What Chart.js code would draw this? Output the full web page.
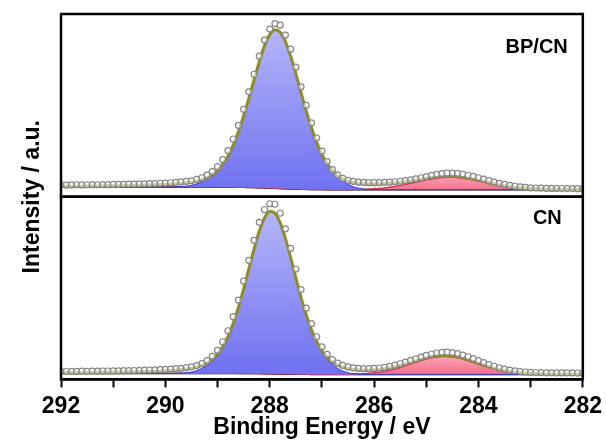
<!DOCTYPE html>
<html>
<head>
<meta charset="utf-8">
<script src="https://cdn.jsdelivr.net/npm/chart.js@4.4.1/dist/chart.umd.min.js"></script>
<style>
  html, body { margin: 0; padding: 0; background: #fff; }
  #wrap { width: 606px; height: 441px; }
</style>
</head>
<body>
<div id="wrap"><canvas id="myChart" width="606" height="441"></canvas></div>
<script>
// binding energy grid (eV), one point per 0.1 eV, 292 -> 282
const energy = [
  292.0, 291.9, 291.8, 291.7, 291.6, 291.5, 291.4, 291.3, 291.2, 291.1,
  291.0, 290.9, 290.8, 290.7, 290.6, 290.5, 290.4, 290.3, 290.2, 290.1,
  290.0, 289.9, 289.8, 289.7, 289.6, 289.5, 289.4, 289.3, 289.2, 289.1,
  289.0, 288.9, 288.8, 288.7, 288.6, 288.5, 288.4, 288.3, 288.2, 288.1,
  288.0, 287.9, 287.8, 287.7, 287.6, 287.5, 287.4, 287.3, 287.2, 287.1,
  287.0, 286.9, 286.8, 286.7, 286.6, 286.5, 286.4, 286.3, 286.2, 286.1,
  286.0, 285.9, 285.8, 285.7, 285.6, 285.5, 285.4, 285.3, 285.2, 285.1,
  285.0, 284.9, 284.8, 284.7, 284.6, 284.5, 284.4, 284.3, 284.2, 284.1,
  284.0, 283.9, 283.8, 283.7, 283.6, 283.5, 283.4, 283.3, 283.2, 283.1,
  283.0, 282.9, 282.8, 282.7, 282.6, 282.5, 282.4, 282.3, 282.2, 282.1,
  282.0
];
const xTickLabels = [292, 290, 288, 286, 284, 282];
const panelNames = ["BP/CN", "CN"];

// ---- BP/CN (top panel) ----
const obsTop = [
  11.8, 11.6, 11.7, 11.9, 11.7, 11.9, 12.0, 11.9, 12.1, 12.0,
  12.2, 12.3, 12.3, 12.5, 12.5, 12.7, 12.8, 13.0, 13.1, 13.4,
  13.6, 13.9, 14.2, 14.7, 15.2, 15.8, 17.2, 18.9, 21.5, 25.0,
  30.0, 37.0, 46.0, 57.5, 71.0, 87.0, 104.5, 122.0, 140.0, 156.0,
  167.0, 172.5, 171.0, 161.0, 147.0, 129.0, 109.5, 91.0, 73.5, 58.5,
  45.5, 35.0, 27.0, 21.8, 18.2, 16.3, 15.3, 14.6, 14.2, 14.0,
  14.0, 14.0, 14.2, 14.5, 14.9, 15.4, 16.0, 16.8, 17.8, 18.9,
  20.1, 21.3, 22.3, 23.0, 23.4, 23.5, 23.2, 22.5, 21.4, 20.2,
  18.9, 17.5, 16.0, 14.6, 13.3, 12.2, 11.2, 10.4, 9.8, 9.3,
  8.9, 8.7, 8.5, 8.4, 8.3, 8.3, 8.2, 8.1, 8.1, 8.0,
  8.0
];
const envTop = [
  10.4, 10.4, 10.4, 10.5, 10.5, 10.6, 10.6, 10.7, 10.8, 10.8,
  10.9, 11.0, 11.1, 11.2, 11.3, 11.4, 11.6, 11.7, 11.9, 12.1,
  12.3, 12.6, 12.9, 13.3, 13.8, 14.5, 15.5, 16.9, 19.0, 22.0,
  26.4, 32.4, 40.6, 51.4, 64.7, 80.4, 98.1, 116.7, 134.6, 150.3,
  161.4, 166.3, 163.8, 154.6, 140.1, 122.6, 103.7, 85.4, 68.6, 54.1,
  42.2, 32.9, 26.0, 21.0, 17.5, 15.4, 14.3, 13.4, 13.0, 12.8,
  12.8, 12.9, 13.1, 13.5, 13.9, 14.5, 15.0, 15.8, 16.7, 17.6,
  18.4, 19.1, 19.7, 20.3, 20.5, 20.4, 20.1, 19.4, 18.5, 17.6,
  16.5, 15.3, 14.1, 12.9, 11.9, 11.0, 10.2, 9.5, 9.0, 8.6,
  8.2, 8.0, 7.8, 7.7, 7.6, 7.6, 7.5, 7.4, 7.4, 7.4,
  7.4
];
const bgTop = [
  9.6, 9.6, 9.6, 9.6, 9.6, 9.6, 9.6, 9.6, 9.6, 9.6,
  9.6, 9.6, 9.6, 9.6, 9.6, 9.6, 9.6, 9.6, 9.6, 9.6,
  9.6, 9.6, 9.6, 9.6, 9.6, 9.6, 9.6, 9.6, 9.6, 9.6,
  9.6, 9.5, 9.5, 9.5, 9.4, 9.3, 9.2, 9.1, 8.9, 8.8,
  8.6, 8.4, 8.1, 7.9, 7.7, 7.6, 7.4, 7.3, 7.2, 7.1,
  7.1, 7.0, 7.0, 7.0, 7.0, 7.0, 7.0, 7.0, 7.0, 7.0,
  7.0, 7.0, 7.0, 7.0, 7.0, 7.0, 7.0, 7.0, 7.0, 7.0,
  7.0, 7.0, 7.0, 7.0, 7.0, 7.0, 7.0, 7.0, 7.0, 7.0,
  7.0, 7.0, 7.0, 7.0, 7.0, 7.0, 7.0, 7.0, 7.0, 7.0,
  7.0, 7.0, 7.0, 7.0, 7.0, 7.0, 7.0, 7.0, 7.0, 7.0,
  7.0
];
// component heights above background
const blueTop = [
  0, 0, 0, 0, 0, 0, 0, 0, 0, 0,
  0, 0, 0, 0, 0, 0, 0, 0, 0, 0,
  0, 0, 0.1, 0.4, 0.9, 1.8, 3.2, 5.5, 8.5, 11.8,
  16.2, 22.5, 30.8, 41.9, 55.3, 71.1, 88.9, 107.6, 125.7, 141.5,
  152.8, 157.9, 155.7, 146.7, 132.4, 115.0, 96.3, 78.1, 61.4, 47.0,
  35.1, 25.9, 18.9, 13.2, 8.8, 5.5, 3.0, 1.5, 0.6, 0.2,
  0, 0, 0, 0, 0, 0, 0, 0, 0, 0,
  0, 0, 0, 0, 0, 0, 0, 0, 0, 0,
  0, 0, 0, 0, 0, 0, 0, 0, 0, 0,
  0, 0, 0, 0, 0, 0, 0, 0, 0, 0,
  0
];
const redTop = [
  0, 0, 0, 0, 0, 0, 0, 0, 0, 0,
  0, 0, 0, 0, 0, 0, 0, 0, 0, 0,
  0, 0, 0, 0, 0, 0, 0, 0, 0, 0,
  0, 0, 0, 0, 0, 0, 0, 0, 0, 0,
  0, 0, 0, 0, 0, 0, 0, 0, 0, 0,
  0, 0, 0, 0.1, 0.1, 0.1, 0.2, 0.3, 0.5, 0.7,
  1.0, 1.4, 1.9, 2.6, 3.3, 4.2, 5.2, 6.3, 7.5, 8.6,
  9.7, 10.6, 11.4, 12.0, 12.3, 12.3, 12.0, 11.4, 10.6, 9.7,
  8.6, 7.5, 6.3, 5.2, 4.2, 3.3, 2.6, 1.9, 1.4, 1.0,
  0.7, 0.5, 0.3, 0.2, 0.1, 0.1, 0.1, 0, 0, 0,
  0
];

// ---- CN (bottom panel) ----
const obsBot = [
  8.0, 7.9, 8.1, 8.0, 8.2, 8.1, 8.3, 8.2, 8.4, 8.4,
  8.5, 8.6, 8.7, 8.8, 8.9, 9.1, 9.2, 9.4, 9.6, 9.8,
  10.0, 10.3, 10.7, 11.1, 11.7, 12.5, 13.8, 15.8, 18.8, 23.0,
  29.0, 37.5, 48.5, 62.5, 79.0, 98.0, 118.5, 138.5, 156.5, 169.0,
  175.0, 174.5, 165.5, 150.0, 130.5, 110.0, 89.5, 71.0, 55.5, 42.5,
  32.5, 25.0, 19.8, 16.3, 13.9, 12.4, 11.5, 11.0, 10.8, 10.8,
  11.0, 11.4, 12.1, 13.0, 14.2, 15.6, 17.2, 18.9, 20.6, 22.3,
  23.9, 25.3, 26.3, 27.0, 27.1, 26.7, 25.7, 24.3, 22.6, 20.7,
  18.7, 16.7, 14.8, 13.1, 11.6, 10.3, 9.3, 8.5, 7.9, 7.4,
  7.1, 6.9, 6.8, 6.6, 6.6, 6.5, 6.5, 6.5, 6.5, 6.4,
  6.4
];
const envBot = [
  6.7, 6.8, 6.8, 6.9, 6.9, 7.0, 7.0, 7.1, 7.1, 7.2,
  7.3, 7.4, 7.5, 7.6, 7.7, 7.8, 8.0, 8.1, 8.3, 8.5,
  8.7, 9.0, 9.4, 9.8, 10.4, 11.1, 12.2, 13.9, 16.4, 20.0,
  25.4, 32.9, 43.0, 56.0, 71.8, 90.3, 110.2, 129.9, 147.7, 160.9,
  167.2, 165.5, 156.0, 140.5, 121.5, 101.4, 81.8, 64.3, 49.4, 37.6,
  28.6, 22.0, 17.4, 14.4, 12.3, 11.0, 10.1, 9.6, 9.4, 9.4,
  9.6, 9.9, 10.6, 11.4, 12.6, 13.9, 15.4, 16.9, 18.5, 20.1,
  21.5, 22.7, 23.5, 23.8, 23.7, 23.3, 22.3, 21.1, 19.5, 17.8,
  16.1, 14.3, 12.7, 11.2, 9.8, 8.8, 7.9, 7.3, 6.7, 6.3,
  6.0, 5.8, 5.7, 5.5, 5.5, 5.4, 5.4, 5.4, 5.4, 5.3,
  5.3
];
const bgBot = [
  6.0, 6.0, 6.0, 6.0, 6.0, 6.0, 6.0, 6.0, 6.0, 6.0,
  6.0, 6.0, 6.0, 6.0, 6.0, 6.0, 6.0, 6.0, 6.0, 6.0,
  6.0, 6.0, 6.0, 6.0, 6.0, 6.0, 6.0, 6.0, 6.0, 6.0,
  6.0, 6.0, 6.0, 6.0, 5.9, 5.9, 5.9, 5.8, 5.8, 5.7,
  5.6, 5.5, 5.4, 5.3, 5.2, 5.2, 5.1, 5.1, 5.0, 5.0,
  5.0, 5.0, 5.0, 5.0, 5.0, 5.0, 5.0, 5.0, 5.0, 5.0,
  5.0, 5.0, 5.0, 5.0, 5.0, 5.0, 5.0, 5.0, 5.0, 5.0,
  5.0, 5.0, 5.0, 5.0, 5.0, 5.0, 5.0, 5.0, 5.0, 5.0,
  5.0, 5.0, 5.0, 5.0, 5.0, 5.0, 5.0, 5.0, 5.0, 5.0,
  5.0, 5.0, 5.0, 5.0, 5.0, 5.0, 5.0, 5.0, 5.0, 5.0,
  5.0
];
const blueBot = [
  0, 0, 0, 0, 0, 0, 0, 0, 0, 0,
  0, 0, 0, 0, 0, 0, 0, 0, 0, 0,
  0, 0, 0.1, 0.3, 0.6, 1.4, 2.8, 5.0, 8.0, 12.0,
  17.5, 25.5, 36.0, 50.0, 65.9, 84.4, 104.3, 124.1, 141.9, 155.2,
  161.6, 160.0, 150.6, 135.2, 116.3, 96.2, 76.7, 59.2, 44.4, 32.6,
  23.0, 15.5, 9.8, 6.0, 3.4, 1.7, 0.8, 0.3, 0.1, 0,
  0, 0, 0, 0, 0, 0, 0, 0, 0, 0,
  0, 0, 0, 0, 0, 0, 0, 0, 0, 0,
  0, 0, 0, 0, 0, 0, 0, 0, 0, 0,
  0, 0, 0, 0, 0, 0, 0, 0, 0, 0,
  0
];
const redBot = [
  0, 0, 0, 0, 0, 0, 0, 0, 0, 0,
  0, 0, 0, 0, 0, 0, 0, 0, 0, 0,
  0, 0, 0, 0, 0, 0, 0, 0, 0, 0,
  0, 0, 0, 0, 0, 0, 0, 0, 0, 0,
  0, 0, 0, 0, 0, 0, 0, 0, 0, 0,
  0, 0, 0, 0.1, 0.1, 0.2, 0.3, 0.5, 0.8, 1.2,
  1.7, 2.3, 3.2, 4.2, 5.5, 7.0, 8.6, 10.3, 12.0, 13.7,
  15.2, 16.4, 17.3, 17.7, 17.7, 17.3, 16.4, 15.2, 13.7, 12.0,
  10.3, 8.6, 7.0, 5.5, 4.2, 3.2, 2.3, 1.7, 1.2, 0.8,
  0.5, 0.3, 0.2, 0.1, 0.1, 0, 0, 0, 0, 0,
  0
];

const FONT = '"Liberation Sans", Arial, Helvetica, sans-serif';

function pts(vals) {
  return energy.map((e, i) => ({ x: e, y: vals[i] }));
}
function ptsOn(bg, comp) {
  return energy.map((e, i) => ({ x: e, y: bg[i] + comp[i] }));
}

// vertical gradients, built once the scales have their pixel positions
function blueFill(axisId) {
  return function (c) {
    const chart = c.chart;
    const s = chart.scales[axisId];
    if (!s || !chart.chartArea) return 'rgb(140,142,245)';
    const g = chart.ctx.createLinearGradient(0, s.top + 10, 0, s.bottom - 8);
    g.addColorStop(0, 'rgb(182,184,250)');
    g.addColorStop(1, 'rgb(112,114,240)');
    return g;
  };
}
function redFill(axisId) {
  return function (c) {
    const chart = c.chart;
    const s = chart.scales[axisId];
    if (!s || !chart.chartArea) return 'rgb(245,140,160)';
    const g = chart.ctx.createLinearGradient(0, s.bottom - 28, 0, s.bottom - 6);
    g.addColorStop(0, 'rgb(255,182,196)');
    g.addColorStop(1, 'rgb(242,112,140)');
    return g;
  };
}

function panelSets(axisId, obs, env, bg, blue, red, base) {
  // base = index of this panel's background dataset, used as fill target
  return [
    {
      label: 'data', yAxisID: axisId, data: pts(obs), showLine: false,
      pointRadius: 3, pointBorderWidth: 1.2, pointBorderColor: '#858585',
      pointBackgroundColor: 'rgba(255,255,255,0.55)'
    },
    {
      label: 'fit', yAxisID: axisId, data: pts(env), borderColor: '#8e8c22',
      borderWidth: 3, pointRadius: 0, fill: false, cubicInterpolationMode: 'monotone'
    },
    {
      label: 'peak 1', yAxisID: axisId, data: ptsOn(bg, blue), borderColor: '#3a3ad6',
      borderWidth: 1, pointRadius: 0, fill: base, backgroundColor: blueFill(axisId),
      cubicInterpolationMode: 'monotone'
    },
    {
      label: 'peak 2', yAxisID: axisId, data: ptsOn(bg, red), borderColor: '#d42a4c',
      borderWidth: 1.3, pointRadius: 0, fill: base, backgroundColor: redFill(axisId),
      cubicInterpolationMode: 'monotone'
    },
    {
      label: 'background', yAxisID: axisId, data: pts(bg), borderColor: '#000',
      borderWidth: 1.5, pointRadius: 0, fill: false, cubicInterpolationMode: 'monotone'
    }
  ];
}

const datasets = panelSets('yTop', obsTop, envTop, bgTop, blueTop, redTop, 4)
  .concat(panelSets('yBot', obsBot, envBot, bgBot, blueBot, redBot, 9));

// frames around each panel, sample names and the shared y title
const panelPlugin = {
  id: 'panels',
  afterDraw(chart) {
    const ctx = chart.ctx;
    const area = chart.chartArea;
    const ids = ['yTop', 'yBot'];
    ctx.save();
    ctx.strokeStyle = '#000';
    ctx.lineWidth = 2.5;
    ids.forEach((id) => {
      const s = chart.scales[id];
      ctx.strokeRect(area.left, s.top, area.right - area.left, s.bottom - s.top);
    });
    ctx.fillStyle = '#000';
    ctx.font = 'bold 20px ' + FONT;
    ctx.textAlign = 'right';
    ctx.textBaseline = 'alphabetic';
    ctx.fillText(panelNames[0], area.right - 15, chart.scales.yTop.top + 39);
    ctx.fillText(panelNames[1], area.right - 21, chart.scales.yBot.top + 27);

    ctx.font = 'bold 23px ' + FONT;
    ctx.textAlign = 'center';
    ctx.textBaseline = 'middle';
    ctx.translate(33, (area.top + area.bottom) / 2);
    ctx.rotate(-Math.PI / 2);
    ctx.fillText('Intensity / a.u.', 0, 0);
    ctx.restore();
  }
};

const ctx = document.getElementById('myChart').getContext('2d');
new Chart(ctx, {
  type: 'line',
  data: { datasets: datasets },
  options: {
    responsive: false,
    animation: false,
    layout: { padding: { left: 61, right: 23, top: 14, bottom: -2 } },
    plugins: {
      legend: { display: false },
      tooltip: { enabled: false }
    },
    scales: {
      x: {
        type: 'linear',
        min: 282,
        max: 292,
        reverse: true,
        grid: {
          drawOnChartArea: false,
          tickLength: 8,
          tickWidth: 2,
          tickColor: '#000'
        },
        border: { display: true, color: '#000', width: 2.5 },
        ticks: {
          stepSize: 1,
          autoSkip: false,
          maxRotation: 0,
          padding: 4,
          color: '#000',
          font: { family: FONT, size: 23, weight: 'bold', lineHeight: 1.36 },
          callback: (v) => (xTickLabels.includes(v) ? String(v) : '')
        },
        title: {
          display: true,
          text: 'Binding Energy / eV',
          color: '#000',
          padding: { top: 0, bottom: 14 },
          font: { family: FONT, size: 23, weight: 'bold', lineHeight: 0.1 }
        }
      },
      // in a stack the first listed axis is laid out at the bottom
      yBot: {
        type: 'linear', position: 'left', stack: 'panels', stackWeight: 1,
        min: 0, max: 182, display: false
      },
      yTop: {
        type: 'linear', position: 'left', stack: 'panels', stackWeight: 1,
        min: 0, max: 182, display: false
      }
    }
  },
  plugins: [panelPlugin]
});
</script>
</body>
</html>
